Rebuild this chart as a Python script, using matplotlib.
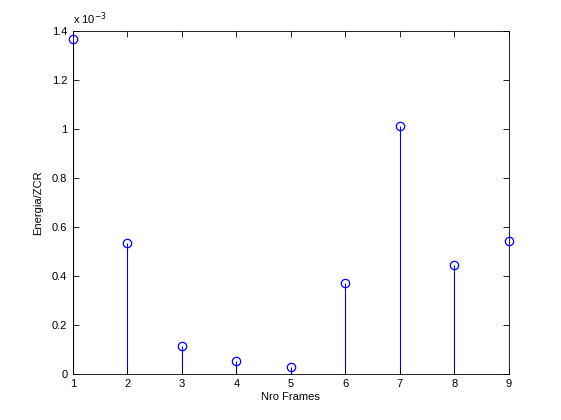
import matplotlib
matplotlib.use("Agg")
from matplotlib import pyplot as plt
from matplotlib.ticker import FuncFormatter

# energy / ZCR per frame, in units of 1e-3
frames = [1, 2, 3, 4, 5, 6, 7, 8, 9]
ratio = [1.367, 0.535, 0.114, 0.053, 0.027, 0.370, 1.012, 0.445, 0.543]
scale_exp = -3

plt.rcParams['font.family'] = ['Liberation Sans', 'DejaVu Sans']
plt.rcParams['font.size'] = 8

fig = plt.figure(figsize=(5.61, 4.20), dpi=100)
ax = fig.add_axes([0.13, 0.11, 0.777, 0.816])

markers, stems, base = ax.stem(frames, ratio, linefmt='b-', markerfmt='o', basefmt=' ')
stems.set_linewidth(0.8)
stems.set_zorder(1)
markers.set_markerfacecolor('none')
markers.set_markeredgecolor('b')
markers.set_markersize(6)
markers.set_markeredgewidth(0.9)
markers.set_clip_on(False)
markers.set_zorder(3)

ax.set_xlim(1, 9)
ax.set_ylim(0, 1.4)
ax.set_xticks(range(1, 10))
ax.set_yticks([0, 0.2, 0.4, 0.6, 0.8, 1.0, 1.2, 1.4])
ax.yaxis.set_major_formatter(FuncFormatter(lambda v, p: ('%.1f' % v).rstrip('0').rstrip('.') if v else '0'))
ax.tick_params(direction='in', top=True, right=True, length=4, width=0.6, pad=4)
for s in ax.spines.values():
    s.set_linewidth(0.6)

ax.text(0.0, 1.012, 'x 10$^{%d}$' % scale_exp, transform=ax.transAxes, ha='left', va='bottom')
ax.set_xlabel('Nro Frames', labelpad=2)
ax.set_ylabel('Energia/ZCR', labelpad=6)

fig.savefig('out.png', dpi=100)
